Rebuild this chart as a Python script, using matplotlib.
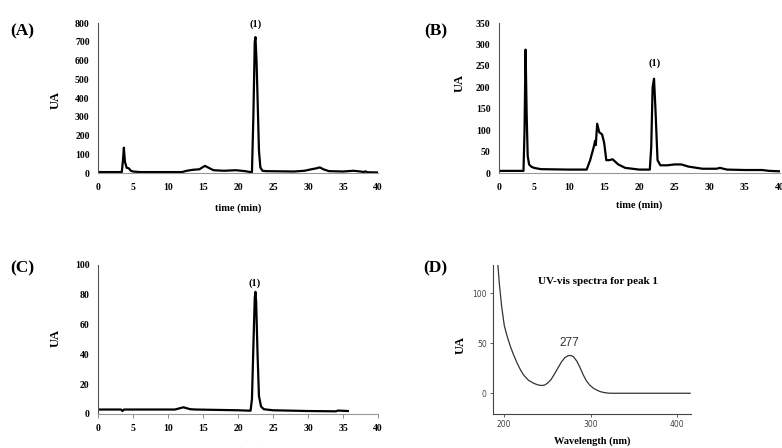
import matplotlib
matplotlib.use("Agg")
import matplotlib.pyplot as plt

# (A) chromatogram
time_a = [0, 3.4, 3.55, 3.7, 3.85, 4.1, 4.4, 4.7, 5.0, 6, 12, 12.7, 13.5, 14.5, 15.0, 15.3, 15.7, 16.5,
          18, 19.7, 21, 21.8, 22.0, 22.2, 22.4, 22.5, 22.65, 22.8, 23.0, 23.2, 23.5, 24, 28, 29.5, 30.5,
          31.2, 31.7, 32.2, 33, 35, 36.5, 37.5, 38.0, 38.2, 38.5, 40]
ua_a = [5, 5, 60, 135, 60, 28, 25, 12, 8, 5, 5, 12, 17, 20, 32, 38, 30, 15,
        12, 15, 10, 5, 5, 300, 700, 725, 600, 400, 120, 30, 12, 10, 8, 12, 20,
        25, 30, 20, 10, 8, 12, 8, 5, 9, 4, 3]

# (B) chromatogram
time_b = [0, 3.5, 3.65, 3.8, 3.95, 4.1, 4.3, 4.6, 5.0, 6, 10, 12.5, 13.0, 13.5, 13.7, 13.8, 14.0, 14.3,
          14.7, 15.0, 15.3, 15.7, 16.2, 17, 18, 20, 21.5, 21.7, 21.9, 22.1, 22.3, 22.6, 23, 24, 25,
          26, 27, 29, 31, 31.5, 32.5, 35, 37.5, 38.5, 40]
ua_b = [5, 5, 100, 288, 140, 40, 20, 15, 12, 9, 8, 8, 30, 60, 75, 65, 115, 95,
        90, 70, 30, 30, 32, 20, 12, 8, 8, 60, 200, 220, 150, 30, 18, 18, 20,
        20, 15, 10, 10, 12, 8, 7, 7, 5, 4]

# (C) chromatogram
time_c = [0, 3.3, 3.5, 3.7, 5, 11, 12.2, 13.2, 14, 20, 21.8, 22.0, 22.2, 22.4, 22.5, 22.6, 22.8, 23.0,
          23.3, 23.7, 25, 30, 34, 34.3, 35.7]
ua_c = [3, 3, 2.0, 3, 3, 3, 4.5, 3.2, 3, 2.5, 2.2, 10, 45, 78, 82, 75, 40, 12,
        5, 3.2, 2.5, 2, 1.8, 2.3, 2]

# (D) UV-vis spectrum of peak 1
wl = [192.7, 194.3, 197, 200, 203, 207, 211, 215, 219, 222.6, 228, 234, 239, 243.7, 247, 250,
      254, 258, 262, 266, 270, 274, 277, 280, 284, 288, 291.6, 295, 299, 304, 310.7, 316, 322, 415]
ua_d = [128, 110, 87, 68, 58, 47, 38, 30, 23, 18, 13, 10, 8.3, 7.7, 8.3, 10,
        13.5, 19, 25, 31, 35.5, 37.5, 37.7, 36.5, 32, 25, 18, 12.5, 8, 4.5, 1.7, 0.6, 0, 0]

serif = ["Liberation Serif", "DejaVu Serif"]
plt.rcParams["font.family"] = serif

fig = plt.figure(figsize=(7.82, 4.48), dpi=100)


def chrom(ax, t, y, ymax, ystep, ylab_pos, peak_pos, xticks_marks=False):
    ax.plot(t, y, color="black", lw=1.6, solid_joinstyle="round")
    ax.set_xlim(0, 40)
    ax.set_ylim(0, ymax)
    ax.set_xticks(range(0, 41, 5))
    ax.set_yticks(range(0, ymax + 1, ystep))
    for s in ["top", "right"]:
        ax.spines[s].set_visible(False)
    ax.spines["left"].set_color("#555555")
    ax.spines["bottom"].set_color("#999999")
    ax.spines["left"].set_linewidth(0.8)
    ax.spines["bottom"].set_linewidth(0.8)
    ax.tick_params(axis="y", length=0, pad=6, labelsize=7)
    if xticks_marks:
        ax.tick_params(axis="x", length=3, width=0.6, color="#777777", pad=4, labelsize=7)
    else:
        ax.tick_params(axis="x", length=0, pad=7, labelsize=7)
    for lbl in ax.get_xticklabels() + ax.get_yticklabels():
        lbl.set_fontweight("bold")
    ax.set_ylabel("UA", fontsize=9, fontweight="bold")
    ax.yaxis.set_label_coords(*ylab_pos)
    ax.set_xlabel("time (min)", fontsize=7.5, fontweight="bold")
    ax.text(peak_pos[0], peak_pos[1], "(1)", ha="center", va="center",
            fontsize=7.5, fontweight="bold", clip_on=False)


ax_a = fig.add_axes([0.1253, 0.6138, 0.358, 0.3348])
chrom(ax_a, time_a, ua_a, 800, 100, (-0.13, 0.49), (22.57, 795))
ax_a.xaxis.set_label_coords(0.5, -0.2)

ax_b = fig.add_axes([0.638, 0.6138, 0.359, 0.3348])
chrom(ax_b, time_b, ua_b, 350, 50, (-0.12, 0.6), (22.2, 257))
ax_b.xaxis.set_label_coords(0.5, -0.18)

ax_c = fig.add_axes([0.1253, 0.0759, 0.358, 0.3326])
chrom(ax_c, time_c, ua_c, 100, 20, (-0.13, 0.51), (22.4, 88), xticks_marks=True)
ax_c.xaxis.set_label_coords(0.5, -0.225)

ax_d = fig.add_axes([0.6304, 0.0759, 0.2532, 0.3326])
ax_d.plot(wl, ua_d, color="#333333", lw=0.9)
ax_d.set_xlim(187, 416)
ax_d.set_ylim(-20.7, 128)
ax_d.set_xticks([200, 300, 400])
ax_d.set_yticks([0, 50, 100])
for s in ["top", "right"]:
    ax_d.spines[s].set_visible(False)
for s in ["left", "bottom"]:
    ax_d.spines[s].set_color("#444444")
    ax_d.spines[s].set_linewidth(0.8)
ax_d.tick_params(length=2.5, width=0.6, color="#444444", labelsize=5.5,
                 labelcolor="#444444", pad=2)
for lbl in ax_d.get_xticklabels() + ax_d.get_yticklabels():
    lbl.set_fontfamily(["DejaVu Sans"])
ax_d.set_ylabel("UA", fontsize=9, fontweight="bold")
ax_d.yaxis.set_label_coords(-0.131, 0.46)
ax_d.set_xlabel("Wavelength (nm)", fontsize=7.5, fontweight="bold")
ax_d.xaxis.set_label_coords(0.5, -0.152)
ax_d.text(0.53, 0.886, "UV-vis spectra for peak 1", transform=ax_d.transAxes,
          ha="center", va="center", fontsize=8, fontweight="bold")
ax_d.text(275.6, 50, "277", ha="center", va="center", fontsize=8.5,
          color="#333333", family=["Liberation Sans", "DejaVu Sans"])

for lab, x, y in [("(A)", 0.028, 0.931), ("(B)", 0.557, 0.931),
                  ("(C)", 0.028, 0.40), ("(D)", 0.557, 0.40)]:
    fig.text(x, y, lab, ha="center", va="center", fontsize=12.5, fontweight="bold")

fig.savefig("out.png", dpi=100)
